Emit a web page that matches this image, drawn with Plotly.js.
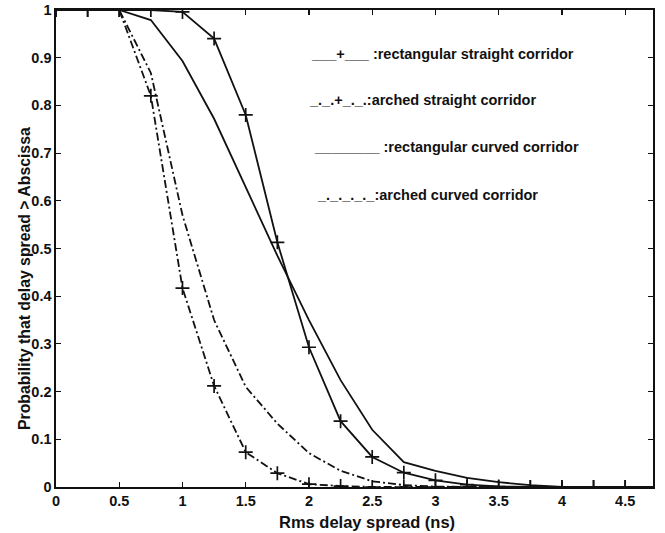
<!DOCTYPE html>
<html>
<head>
<meta charset="utf-8">
<script src="https://cdn.plot.ly/plotly-3.0.1.min.js"></script>
<style>html,body{margin:0;padding:0;background:#fff;}#chart{width:665px;height:533px;}</style>
</head>
<body>
<div id="chart"></div>
<script>
// Rms delay spread (ns)
const delaySpread = [0, 0.25, 0.5, 0.75, 1.0, 1.25, 1.5, 1.75, 2.0, 2.25, 2.5, 2.75, 3.0, 3.25, 3.5, 3.75, 4.0, 4.25, 4.5, 4.75];
// Probability that delay spread > abscissa
const rectStraight = [1, 1, 1, 1, 0.996, 0.94, 0.78, 0.513, 0.293, 0.138, 0.063, 0.03, 0.014, 0.005, 0.001, 0, 0, 0, 0, 0];
const archedStraight = [1, 1, 1, 0.82, 0.417, 0.212, 0.073, 0.029, 0.006, 0.002, 0, 0, 0, 0, 0, 0, 0, 0, 0, 0];
const rectCurved = [1, 1, 1, 0.979, 0.893, 0.772, 0.628, 0.485, 0.35, 0.224, 0.12, 0.052, 0.034, 0.019, 0.01, 0.004, 0, 0, 0, 0];
const archedCurved = [1, 1, 1, 0.868, 0.57, 0.35, 0.21, 0.133, 0.071, 0.034, 0.012, 0.004, 0.001, 0, 0, 0, 0, 0, 0, 0];

const legendTexts = [
  "___+___ :rectangular straight corridor",
  "_._.+_._.:arched straight corridor",
  "________ :rectangular curved corridor",
  "_._._._._:arched curved corridor"
];

const xTitle = 'Rms delay spread (ns)';
const yTitle = 'Probability that delay spread > Abscissa';

const xTickVals = [0, 0.5, 1, 1.5, 2, 2.5, 3, 3.5, 4, 4.5];
const xTickText = ["0", "0.5", "1", "1.5", "2", "2.5", "3", "3.5", "4", "4.5"];
const yTickVals = [0, 0.1, 0.2, 0.3, 0.4, 0.5, 0.6, 0.7, 0.8, 0.9, 1];
const yTickText = ["0", "0.1", "0.2", "0.3", "0.4", "0.5", "0.6", "0.7", "0.8", "0.9", "1"];

const ink = '#111';
const fontFam = 'Liberation Sans, Arial, Helvetica, sans-serif';
const dashDot = '8px,3px,2px,3px';

const traces = [
  {x: delaySpread, y: rectStraight, mode: 'lines+markers', line: {color: ink, width: 1.8},
   marker: {symbol: 'cross-thin-open', size: 10, line: {color: ink, width: 1.7}}},
  {x: delaySpread, y: archedStraight, mode: 'lines+markers', line: {color: ink, width: 1.8, dash: dashDot},
   marker: {symbol: 'cross-thin-open', size: 10, line: {color: ink, width: 1.7}}},
  {x: delaySpread, y: rectCurved, mode: 'lines', line: {color: ink, width: 1.8}},
  {x: delaySpread, y: archedCurved, mode: 'lines', line: {color: ink, width: 1.8, dash: dashDot}}
];

const legendPos = [[0.424, 0.908], [0.420, 0.811], [0.429, 0.713], [0.434, 0.612]];
const annotations = legendTexts.map((t, i) => ({
  text: t, xref: 'paper', yref: 'paper', x: legendPos[i][0], y: legendPos[i][1],
  xanchor: 'left', yanchor: 'middle', showarrow: false,
  font: {family: fontFam, size: 14.5, color: ink, weight: 'bold'}
}));
annotations.push({
  text: xTitle, xref: 'paper', yref: 'paper', x: 0.521, y: -0.0734,
  xanchor: 'center', yanchor: 'middle', showarrow: false,
  font: {family: fontFam, size: 16.5, color: ink, weight: 'bold'}
});
annotations.push({
  text: yTitle, xref: 'paper', yref: 'paper', x: -0.0536, y: 0.436, textangle: -90,
  xanchor: 'center', yanchor: 'middle', showarrow: false,
  font: {family: fontFam, size: 15.8, color: ink, weight: 'bold'}
});

const axisCommon = {
  showline: true, linecolor: ink, linewidth: 1.6, mirror: 'ticks',
  ticks: 'inside', ticklen: 5, tickwidth: 1.2, tickcolor: ink,
  showgrid: false, zeroline: false,
  tickfont: {family: fontFam, size: 14.5, color: ink, weight: 'bold'}
};

const layout = {
  width: 665, height: 533,
  margin: {l: 56, r: 12, t: 10, b: 46},
  paper_bgcolor: '#fff', plot_bgcolor: '#fff',
  showlegend: false,
  xaxis: Object.assign({}, axisCommon, {
    range: [0, 4.72], tickmode: 'array', tickvals: xTickVals, ticktext: xTickText
  }),
  yaxis: Object.assign({}, axisCommon, {
    range: [0, 1], tickmode: 'array', tickvals: yTickVals, ticktext: yTickText
  }),
  annotations: annotations
};

Plotly.newPlot('chart', traces, layout, {displayModeBar: false, staticPlot: true});
</script>
</body>
</html>
